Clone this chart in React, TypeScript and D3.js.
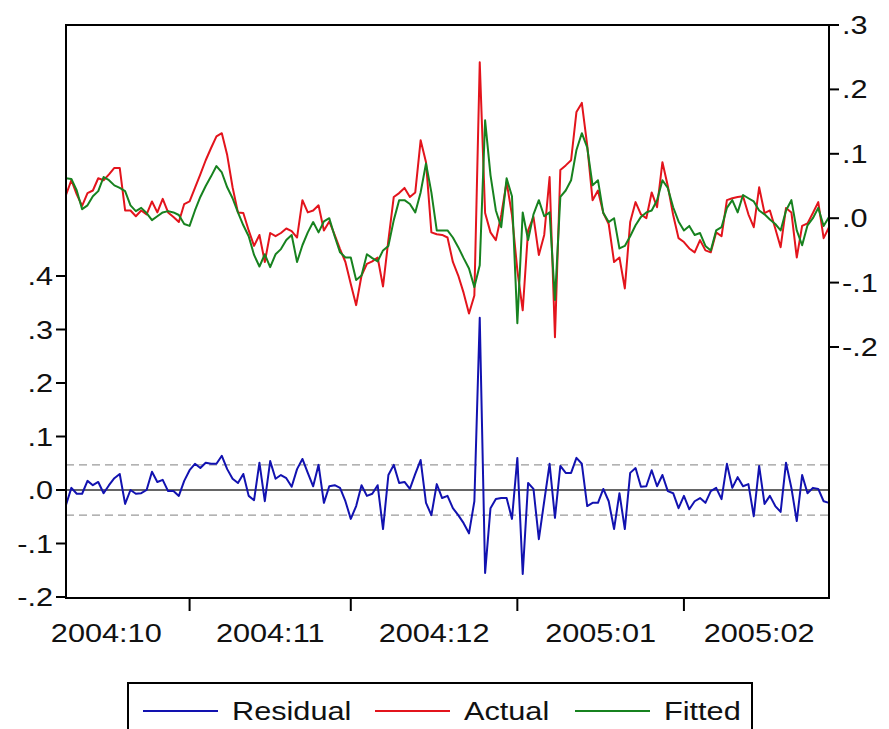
import { useEffect, useRef } from 'react';
import * as d3 from 'd3';

// daily observations, first and last day
const START = '2004-10-09';
const END   = '2005-02-28';

const ACTUAL = [
  0.036, 0.059, 0.037, 0.019, 0.039, 0.043, 0.062, 0.059, 0.068, 0.078,
  0.078, 0.012, 0.012, 0.003, 0.012, 0.006, 0.026, 0.009, 0.030, 0.009,
  0.002, -0.006, 0.022, 0.026, 0.047, 0.068, 0.090, 0.109, 0.127, 0.132,
  0.098, 0.048, 0.009, 0.008, -0.019, -0.043, -0.026, -0.068, -0.023, -0.028,
  -0.023, -0.016, -0.020, -0.030, 0.028, 0.009, 0.012, 0.020, -0.019, -0.005,
  -0.026, -0.048, -0.068, -0.102, -0.135, -0.089, -0.071, -0.067, -0.061, -0.106,
  -0.034, 0.033, 0.039, 0.047, 0.033, 0.040, 0.121, 0.087, -0.022, -0.025,
  -0.026, -0.030, -0.068, -0.089, -0.116, -0.148, -0.120, 0.242, 0.008, -0.022,
  -0.034, 0.005, 0.056, 0.005, -0.081, -0.143, -0.019, 0.002, -0.057, -0.026,
  0.064, -0.185, 0.075, 0.082, 0.090, 0.165, 0.179, 0.113, 0.028, 0.043,
  0.008, -0.009, -0.068, -0.061, -0.109, -0.006, 0.025, 0.006, 0.000, 0.040,
  0.017, 0.087, 0.050, 0.005, -0.031, -0.037, -0.047, -0.053, -0.034, -0.050,
  -0.053, -0.022, -0.028, 0.028, 0.031, 0.033, 0.034, 0.006, -0.014, 0.048,
  0.008, 0.012, -0.016, -0.045, 0.016, 0.009, -0.061, -0.012, -0.008, 0.008,
  0.025, -0.031, -0.014,
];

const FITTED = [
  0.062, 0.061, 0.043, 0.014, 0.020, 0.034, 0.042, 0.064, 0.059, 0.051,
  0.047, 0.042, 0.020, 0.011, 0.016, 0.008, -0.003, 0.003, 0.009, 0.011,
  0.009, 0.005, -0.009, -0.012, 0.012, 0.033, 0.050, 0.065, 0.081, 0.071,
  0.048, 0.031, 0.009, -0.011, -0.028, -0.057, -0.075, -0.056, -0.076, -0.056,
  -0.048, -0.034, -0.026, -0.068, -0.042, -0.022, -0.006, -0.022, -0.005, 0.000,
  -0.028, -0.053, -0.061, -0.061, -0.096, -0.089, -0.056, -0.062, -0.067, -0.050,
  -0.043, -0.003, 0.028, 0.028, 0.022, 0.009, 0.040, 0.085, 0.040, -0.019,
  -0.019, -0.019, -0.030, -0.045, -0.062, -0.078, -0.107, -0.073, 0.152, 0.067,
  0.012, -0.014, 0.062, 0.034, -0.163, 0.009, -0.034, 0.006, 0.028, 0.003,
  0.009, -0.127, 0.033, 0.043, 0.059, 0.106, 0.132, 0.110, 0.051, 0.059,
  0.008, -0.006, 0.000, -0.047, -0.043, -0.028, -0.011, 0.002, 0.009, 0.012,
  0.028, 0.059, 0.047, 0.017, -0.005, -0.019, -0.012, -0.026, -0.023, -0.043,
  -0.050, -0.019, -0.014, 0.016, 0.028, 0.009, 0.036, 0.031, 0.026, 0.012,
  0.006, -0.002, -0.009, -0.019, 0.012, 0.028, -0.019, -0.042, -0.011, 0.000,
  0.016, -0.012, 0.002,
];

const RESIDUAL = [
  -0.028, 0.004, -0.007, -0.007, 0.017, 0.009, 0.015, -0.006, 0.009, 0.022,
  0.030, -0.026, 0.000, -0.007, -0.006, 0.000, 0.034, 0.015, 0.019, -0.002,
  -0.002, -0.011, 0.017, 0.037, 0.049, 0.041, 0.051, 0.049, 0.049, 0.064,
  0.039, 0.021, 0.013, 0.030, -0.011, -0.019, 0.051, -0.021, 0.054, 0.021,
  0.028, 0.022, 0.006, 0.039, 0.058, 0.032, 0.007, 0.047, -0.024, 0.007,
  0.009, 0.004, -0.021, -0.054, -0.030, 0.009, -0.011, -0.007, 0.009, -0.073,
  0.028, 0.047, 0.013, 0.015, 0.002, 0.030, 0.056, -0.024, -0.047, 0.011,
  -0.015, -0.011, -0.034, -0.047, -0.062, -0.081, -0.021, 0.322, -0.155, -0.034,
  -0.017, -0.015, -0.015, -0.054, 0.060, -0.157, 0.013, 0.002, -0.092, -0.021,
  0.049, -0.052, 0.045, 0.032, 0.032, 0.060, 0.049, -0.030, -0.024, -0.024,
  0.002, -0.021, -0.073, -0.006, -0.073, 0.032, 0.041, 0.006, 0.007, 0.037,
  0.007, 0.028, -0.002, -0.006, -0.034, -0.011, -0.036, -0.021, -0.015, -0.024,
  -0.002, 0.004, -0.017, 0.049, 0.004, 0.024, 0.007, 0.011, -0.049, 0.045,
  -0.026, -0.011, -0.030, -0.041, 0.051, 0.004, -0.058, 0.028, -0.006, 0.004,
  0.002, -0.021, -0.024,
];

const RESID_SD    = 0.047;
const LEFT_TICKS  = [-0.2, -0.1, 0, 0.1, 0.2, 0.3, 0.4];
const RIGHT_TICKS = [-0.2, -0.1, 0, 0.1, 0.2, 0.3];
const MONTHS      = ['2004:10', '2004:11', '2004:12', '2005:01', '2005:02'];
const SERIES_NAMES  = ['Residual', 'Actual', 'Fitted'];
const SERIES_COLORS = ['#1212b0', '#e3141c', '#17821f'];

const FONT = '"Liberation Sans", Arial, sans-serif';
const FS = 26;
const SX = 1.18; // text in the original is a bit stretched sideways

// EViews style: ".1", ".0", "-.1"
const fmt = (v: number) => {
  const s = v.toFixed(1);
  return s.replace(/^(-?)0\./, '$1.');
};

export default function App() {
  const svgRef = useRef<SVGSVGElement>(null);

  useEffect(() => {
    if (!svgRef.current) return;
    const W = 889, H = 729;
    const box = { left: 66, right: 829, top: 25, bottom: 598 };

    const svg = d3.select(svgRef.current).attr('width', W).attr('height', H);
    svg.selectAll('*').remove();

    const parse = d3.utcParse('%Y-%m-%d');
    const dates = d3.utcDay.range(parse(START)!, d3.utcDay.offset(parse(END)!, 1));

    const x = d3.scaleUtc()
      .domain([dates[0], dates[dates.length - 1]])
      .range([box.left, box.right]);
    const yL = d3.scaleLinear().domain([-0.2, 0.4]).range([597, 276]);
    const yR = d3.scaleLinear().domain([-0.2, 0.3]).range([347, box.top]);

    const label = (g: any, tx: number, ty: number, txt: string, anchor: string) =>
      g.append('text')
        .attr('transform', `translate(${tx},${ty}) scale(${SX},1)`)
        .attr('text-anchor', anchor)
        .attr('font-family', FONT).attr('font-size', FS)
        .attr('fill', '#111')
        .text(txt);

    svg.append('rect').attr('width', W).attr('height', H).attr('fill', '#fff');

    // residual reference lines
    [RESID_SD, -RESID_SD].forEach(v => {
      svg.append('line')
        .attr('x1', box.left).attr('x2', box.right)
        .attr('y1', yL(v)).attr('y2', yL(v))
        .attr('stroke', '#9a9a9a').attr('stroke-width', 1.2)
        .attr('stroke-dasharray', '8,5');
    });
    svg.append('line')
      .attr('x1', box.left).attr('x2', box.right)
      .attr('y1', yL(0)).attr('y2', yL(0))
      .attr('stroke', '#333').attr('stroke-width', 1.3);

    // series
    const lineL = d3.line<number>().x((_, i) => x(dates[i])).y(d => yL(d));
    const lineR = d3.line<number>().x((_, i) => x(dates[i])).y(d => yR(d));
    const paths = [lineL(RESIDUAL), lineR(ACTUAL), lineR(FITTED)];
    paths.forEach((p, i) => {
      svg.append('path').attr('d', p)
        .attr('fill', 'none').attr('stroke', SERIES_COLORS[i])
        .attr('stroke-width', 2).attr('stroke-linejoin', 'round');
    });

    // frame
    svg.append('rect')
      .attr('x', box.left).attr('y', box.top)
      .attr('width', box.right - box.left).attr('height', box.bottom - box.top)
      .attr('fill', 'none').attr('stroke', '#000').attr('stroke-width', 2);

    // left axis (residual)
    const gl = svg.append('g');
    LEFT_TICKS.forEach(t => {
      gl.append('line').attr('x1', box.left - 10).attr('x2', box.left)
        .attr('y1', yL(t)).attr('y2', yL(t)).attr('stroke', '#000').attr('stroke-width', 2);
      label(gl, box.left - 13, yL(t) + 9, fmt(t), 'end');
    });

    // right axis (actual / fitted)
    const gr = svg.append('g');
    RIGHT_TICKS.forEach(t => {
      gr.append('line').attr('x1', box.right).attr('x2', box.right + 10)
        .attr('y1', yR(t)).attr('y2', yR(t)).attr('stroke', '#000').attr('stroke-width', 2);
      label(gr, box.right + 13, yR(t) + 9, fmt(t), 'start');
    });

    // bottom axis: ticks at month starts, labels mid-month
    const gb = svg.append('g');
    d3.utcMonth.range(dates[0], dates[dates.length - 1]).forEach(m => {
      gb.append('line').attr('x1', x(m)).attr('x2', x(m))
        .attr('y1', box.bottom).attr('y2', box.bottom + 13)
        .attr('stroke', '#000').attr('stroke-width', 2);
    });
    const parseM = d3.utcParse('%Y:%m');
    MONTHS.forEach(mStr => {
      const m = parseM(mStr)!;
      const cx = (x(m) + x(d3.utcMonth.offset(m, 1))) / 2;
      label(gb, cx, 642, mStr, 'middle');
    });

    // legend
    const lg = svg.append('g');
    lg.append('rect').attr('x', 128).attr('y', 683).attr('width', 624).attr('height', 64)
      .attr('fill', '#fff').attr('stroke', '#000').attr('stroke-width', 2);
    const itemX = [143, 375, 575];
    SERIES_NAMES.forEach((name, i) => {
      lg.append('line').attr('x1', itemX[i]).attr('x2', itemX[i] + 75)
        .attr('y1', 711).attr('y2', 711)
        .attr('stroke', SERIES_COLORS[i]).attr('stroke-width', 2);
      label(lg, itemX[i] + 89, 720, name, 'start');
    });
  }, []);

  return (
    <div style={{ position: 'absolute', left: 0, top: 0, width: 889, height: 729, overflow: 'hidden', background: '#fff' }}>
      <svg ref={svgRef} style={{ display: 'block' }} />
    </div>
  );
}
